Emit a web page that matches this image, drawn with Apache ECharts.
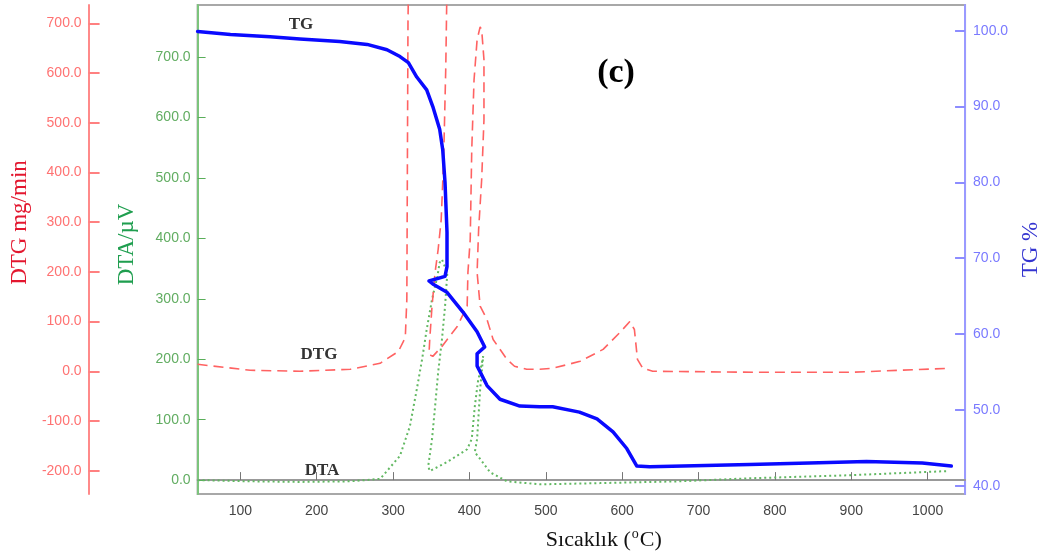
<!DOCTYPE html>
<html>
<head>
<meta charset="utf-8">
<script src="https://cdn.jsdelivr.net/npm/echarts@6/dist/echarts.min.js"></script>
<style>
  html, body { margin: 0; padding: 0; background: #fff; }
  #chart { width: 1050px; height: 556px; }
</style>
</head>
<body>
<div id="chart"></div>
<script>
// TG curve (%), temperature in °C
const tgTemp = [44, 87, 139, 178, 230, 266, 292, 309, 320, 331, 344, 352, 361, 365, 368, 370.6,
  370.6, 368, 347, 352, 370.6, 391.5, 410, 420, 410, 410, 423, 440, 466, 492, 509, 544, 567, 588,
  606, 619, 636, 767, 845, 920, 993, 1031];
const tgVal = [99.9, 99.5, 99.2, 98.9, 98.6, 98.2, 97.5, 96.6, 95.8, 93.9, 92.2, 90.0, 87.0, 84.3, 80.0, 73.4,
  68.9, 67.6, 67.0, 66.6, 65.5, 62.9, 60.3, 58.3, 57.4, 55.8, 53.2, 51.4, 50.5, 50.4, 50.4, 49.7, 48.8, 47.1,
  44.9, 42.6, 42.5, 42.8, 43.0, 43.2, 43.0, 42.6];

// DTG curve (mg/min); first peak runs off the top of the axis
const dtgTemp = [44, 113, 178, 244, 283, 307, 316, 318, 319.5, 320, 345, 370.4, 369, 368, 366.7, 365, 363,
  359, 355, 351, 348, 347, 352, 364, 384, 397, 398, 401, 403, 406, 410, 414, 416, 419, 419, 416, 412,
  410, 414, 423, 431, 449, 459, 475, 492, 509, 545, 575, 597, 610, 616, 620, 627, 640, 771, 901, 1028];
const dtgVal = [14, 2, 0, 4, 16, 40, 68, 145, 700, 760, 900, 760, 612, 546, 460, 380, 305,
  245, 199, 131, 64, 34, 30, 50, 90, 131, 199, 265, 446, 586, 667, 693, 687, 627, 506, 386, 285,
  199, 131, 104, 64, 24, 10, 4, 4, 6, 20, 44, 78, 100, 84, 24, 6, 0, -2, -2, 6];

// DTA curve (µV)
const dtaTemp = [44, 113, 178, 244, 283, 309, 322, 331, 338, 344, 351, 358, 361, 364,
  371, 368, 364, 359, 355, 351, 346, 348, 371, 397, 403, 407, 411, 418,
  414, 410, 407, 414, 427, 449, 492, 571, 675, 767, 897, 1028];
const dtaVal = [0, -2, -3, -2, 2, 40, 89, 150, 200, 249, 299, 337, 360, 365,
  343, 287, 233, 178, 122, 68, 23, 15, 30, 51, 68, 122, 162, 205,
  150, 68, 46, 35, 13, -2, -7, -5, -2, 3, 8, 15];

const zip = (xs, ys) => xs.map((x, i) => [x, ys[i]]);

const chart = echarts.init(document.getElementById('chart'));

const tickFont = { fontFamily: 'Liberation Sans', fontSize: 14 };
const oneDec = v => v.toFixed(1);

const option = {
  animation: false,
  grid: { left: 197, right: 84, top: 5, bottom: 61, show: true, borderColor: '#a8a8a8', borderWidth: 2 },
  xAxis: {
    type: 'value',
    min: 44,
    max: 1049,
    splitNumber: 10,
    minInterval: 100,
    maxInterval: 100,
    name: '{t|Sıcaklık (}{o|o}{t|C)}',
    nameLocation: 'middle',
    nameGap: 33,
    nameTextStyle: {
      padding: [0, 0, 0, 45],
      rich: {
        t: { fontFamily: 'Liberation Serif', fontSize: 22, color: '#111' },
        o: { fontFamily: 'Liberation Serif', fontSize: 14, color: '#111', verticalAlign: 'top', padding: [0, 1, 12, 1] }
      }
    },
    axisLine: { lineStyle: { color: '#999', width: 2 } },
    axisTick: { inside: true, length: 8, lineStyle: { color: '#777' } },
    axisLabel: { ...tickFont, color: '#444', margin: 10, formatter: v => String(v), showMinLabel: false, showMaxLabel: false },
    splitLine: { show: false }
  },
  yAxis: [
    {
      // DTA, inner left
      type: 'value',
      position: 'left',
      min: -23,
      max: 786,
      splitNumber: 8,
      minInterval: 100,
      maxInterval: 100,
      name: 'DTA/µV',
      nameLocation: 'middle',
      nameGap: 59,
      nameTextStyle: { fontFamily: 'Liberation Serif', fontSize: 23, color: '#1f9e4f', padding: [0, 0, 0, 10] },
      axisLine: { show: true, lineStyle: { color: '#7cc47c', width: 2 } },
      axisTick: { inside: true, length: 8, lineStyle: { color: '#5aae5a' } },
      axisLabel: { ...tickFont, color: '#62ad62', margin: 7, formatter: oneDec, showMinLabel: false, showMaxLabel: false },
      splitLine: { show: false }
    },
    {
      // DTG, outer left
      type: 'value',
      position: 'left',
      offset: 109,
      min: -247,
      max: 737,
      splitNumber: 10,
      minInterval: 100,
      maxInterval: 100,
      name: 'DTG mg/min',
      nameLocation: 'middle',
      nameGap: 56,
      nameTextStyle: { fontFamily: 'Liberation Serif', fontSize: 23, color: '#e3172f', padding: [0, 0, 0, 54] },
      axisLine: { show: true, lineStyle: { color: '#ff8a8a', width: 2 } },
      axisTick: { inside: true, length: 11, lineStyle: { color: '#ff8080', width: 2 } },
      axisLabel: { ...tickFont, color: '#ff7272', margin: 7, formatter: oneDec, showMinLabel: false, showMaxLabel: false },
      splitLine: { show: false }
    },
    {
      // TG, right
      type: 'value',
      position: 'right',
      min: 38.9,
      max: 103.4,
      splitNumber: 6,
      minInterval: 10,
      maxInterval: 10,
      name: 'TG %',
      nameLocation: 'middle',
      nameRotate: 90,
      nameGap: 53,
      nameTextStyle: { fontFamily: 'Liberation Serif', fontSize: 23, color: '#3434d0' },
      axisLine: { show: true, lineStyle: { color: '#9a9aff', width: 2 } },
      axisTick: { inside: true, length: 10, lineStyle: { color: '#8c8cff', width: 2 } },
      axisLabel: { ...tickFont, color: '#7a7aff', margin: 8, formatter: oneDec, showMinLabel: false, showMaxLabel: false },
      splitLine: { show: false }
    }
  ],
  series: [
    {
      name: 'DTA',
      type: 'line',
      yAxisIndex: 0,
      data: zip(dtaTemp, dtaVal),
      showSymbol: false,
      lineStyle: { color: '#62b862', width: 2, type: [2, 3] },
      z: 2
    },
    {
      name: 'DTG',
      type: 'line',
      yAxisIndex: 1,
      data: zip(dtgTemp, dtgVal),
      showSymbol: false,
      lineStyle: { color: '#ff6262', width: 1.6, type: [10, 6] },
      z: 3
    },
    {
      name: 'TG',
      type: 'line',
      yAxisIndex: 2,
      data: zip(tgTemp, tgVal),
      showSymbol: false,
      lineStyle: { color: '#0a0aff', width: 3.5, join: 'round', cap: 'round' },
      z: 4
    }
  ],
  graphic: [
    { type: 'text', x: 301, y: 25, style: { text: 'TG', font: 'bold 17px "Liberation Serif"', fill: '#333', align: 'center', verticalAlign: 'middle' } },
    { type: 'text', x: 319, y: 355, style: { text: 'DTG', font: 'bold 17px "Liberation Serif"', fill: '#333', align: 'center', verticalAlign: 'middle' } },
    { type: 'text', x: 322, y: 471, style: { text: 'DTA', font: 'bold 17px "Liberation Serif"', fill: '#333', align: 'center', verticalAlign: 'middle' } },
    { type: 'text', x: 616, y: 73, style: { text: '(c)', font: 'bold 34px "Liberation Serif"', fill: '#000', align: 'center', verticalAlign: 'middle' } }
  ]
};

chart.setOption(option);
</script>
</body>
</html>
